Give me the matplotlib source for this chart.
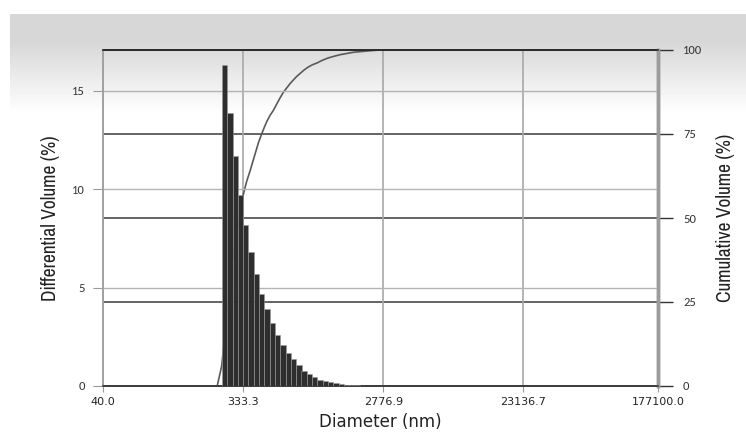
import numpy as np
import matplotlib.pyplot as plt

# differential volume histogram (bin centres in nm, % volume)
diam_nm = [252, 273, 296, 320, 347, 376, 407, 441, 478, 518, 561, 608, 659,
           714, 774, 838, 908, 984, 1066, 1155, 1252, 1356, 1469, 1592, 1725,
           1869, 2025]
diff_vol = [16.3, 13.9, 11.7, 9.7, 8.2, 6.8, 5.7, 4.7, 3.9, 3.2, 2.6, 2.1, 1.7,
            1.35, 1.05, 0.78, 0.6, 0.45, 0.32, 0.25, 0.18, 0.13, 0.09, 0.06, 0.04,
            0.03, 0.02]

# cumulative volume curve
cum_diam = [225, 241, 282, 334, 352, 370, 387, 405, 422, 441, 460, 480, 503,
            526, 552, 580, 610, 644, 675, 710, 748, 788, 835, 890, 950, 1014,
            1100, 1200, 1310, 1443, 1570, 1700, 1820, 1953, 2300, 2650]
cum_vol = [0, 6, 37, 57, 61, 64, 67, 70, 72.7, 75, 77.1, 79, 80.7,
           82, 83.8, 85.6, 87.3, 88.7, 89.9, 91, 92.1, 93, 94, 94.9, 95.6, 96.1,
           96.9, 97.6, 98.1, 98.6, 98.9, 99.2, 99.4, 99.5, 99.8, 100]

xticks = [40.0, 333.3, 2776.9, 23136.7, 177100.0]
left_ticks = [0, 5, 10, 15]
right_ticks = [0, 25, 50, 75, 100]

fig = plt.figure(figsize=(7.46, 4.47), dpi=100)

# scanned-page shading at the top
bg = fig.add_axes([0, 0, 1, 1], zorder=0)
rows = np.arange(447)
shade = np.ones(447)
band = (rows > 13)
shade[band] = np.clip(0.84 + (rows[band] - 40) * 0.0022, 0.84, 1.0)
img = np.tile(shade[:, None], (1, 746))
img[:, :10] = 1.0
bg.imshow(img, cmap='gray', vmin=0, vmax=1, aspect='auto', extent=[0, 746, 447, 0])
bg.axis('off')

ax2 = fig.add_axes([103 / 746, 1 - 386 / 447, 555 / 746, 336 / 447], zorder=1)
ax = ax2.twinx()
ax.set_zorder(2)
ax.patch.set_visible(False)
ax2.patch.set_visible(False)

# the twin (ax) holds the bars on the left scale, ax2 holds the curve on the right scale
ax.yaxis.tick_left()
ax.yaxis.set_label_position('left')
ax2.yaxis.tick_right()
ax2.yaxis.set_label_position('right')

ax2.set_xscale('log')
ax2.set_xlim(40, 177100)
ax2.set_ylim(0, 100)
ax.set_ylim(0, 17.08)

# bars on a log axis: width as a ratio of bin centre
step = 1.0835
lefts = [d / np.sqrt(step) for d in diam_nm]
widths = [d * np.sqrt(step) - d / np.sqrt(step) for d in diam_nm]
ax.bar(lefts, diff_vol, width=widths, align='edge', color='#2e2e2e',
       edgecolor='#9a9a9a', linewidth=0.4, zorder=3)

ax2.plot(cum_diam, cum_vol, color='#5a5a5a', linewidth=1.2, zorder=2)

# grids
for v in left_ticks[1:]:
    ax.axhline(v, color='#b4b4b4', linewidth=1.0, zorder=1)
for v in right_ticks[1:]:
    ax2.axhline(v, color='#3a3a3a', linewidth=1.1, zorder=1)
for xv in xticks[1:-1]:
    ax2.axvline(xv, color='#a8a8a8', linewidth=1.2, zorder=1)

ax2.set_xticks(xticks)
ax2.set_xticklabels(['%.1f' % v for v in xticks])
ax2.xaxis.set_minor_locator(plt.NullLocator())
ax.xaxis.set_minor_locator(plt.NullLocator())
ax2.tick_params(axis='x', labelsize=8, colors='#222222', length=4, width=0.8,
                color='#999999', pad=4)
ax2.set_xlabel('Diameter (nm)', fontsize=12, color='#222222', labelpad=4)

ax.set_yticks(left_ticks)
ax.tick_params(axis='y', labelsize=9, colors='#333333', length=7, width=0.8,
               color='#999999', pad=6)
ax2.set_yticks(right_ticks)
ax2.tick_params(axis='y', labelsize=9, colors='#333333', length=11, width=1.0,
                color='#333333', pad=7)
for lab in ax.get_yticklabels() + ax2.get_yticklabels():
    lab.set_family(['Carlito', 'DejaVu Sans'])

narrow = ['Archivo Narrow', 'DejaVu Sans']
ax.set_ylabel('Differential Volume (%)', fontsize=14, family=narrow,
              color='#222222', labelpad=9)
ax2.set_ylabel('Cumulative Volume (%)', fontsize=14, family=narrow,
               color='#222222', labelpad=10)

for a in (ax, ax2):
    a.spines['top'].set_color('#2a2a2a')
    a.spines['top'].set_linewidth(1.2)
    a.spines['bottom'].set_color('#3a3a3a')
    a.spines['bottom'].set_linewidth(1.2)
    a.spines['left'].set_color('#a0a0a0')
    a.spines['left'].set_linewidth(1.2)
    a.spines['right'].set_color('#9c9c9c')
    a.spines['right'].set_linewidth(2.5)

fig.savefig('out.png', dpi=100)
